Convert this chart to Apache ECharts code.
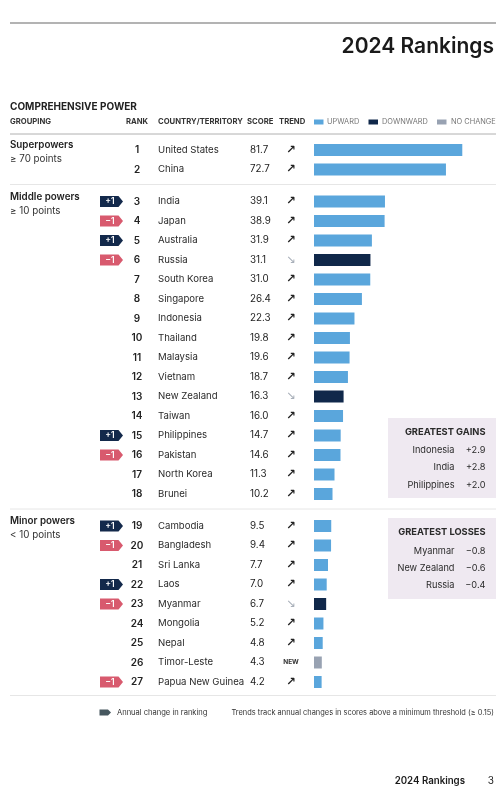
<!DOCTYPE html>
<html><head><meta charset="utf-8">
<script src="https://cdn.jsdelivr.net/npm/echarts@6/dist/echarts.min.js"></script>
<style>html,body{margin:0;padding:0;background:#fff}#c{width:500px;height:796px}</style>
</head><body><div id="c"></div>
<script>
// ---- DATA ----
const ranks = [1,2,3,4,5,6,7,8,9,10,11,12,13,14,15,16,17,18,19,20,21,22,23,24,25,26,27];
const countries = ["United States","China","India","Japan","Australia","Russia","South Korea","Singapore","Indonesia","Thailand","Malaysia","Vietnam","New Zealand","Taiwan","Philippines","Pakistan","North Korea","Brunei","Cambodia","Bangladesh","Sri Lanka","Laos","Myanmar","Mongolia","Nepal","Timor-Leste","Papua New Guinea"];
const scores = [81.7,72.7,39.1,38.9,31.9,31.1,31.0,26.4,22.3,19.8,19.6,18.7,16.3,16.0,14.7,14.6,11.3,10.2,9.5,9.4,7.7,7.0,6.7,5.2,4.8,4.3,4.2];
const trends = ["up","up","up","up","up","down","up","up","up","up","up","up","down","up","up","up","up","up","up","up","up","up","down","up","up","new","up"];
const rankChanges = [0,0,1,-1,1,-1,0,0,0,0,0,0,0,0,1,-1,0,0,1,-1,0,1,-1,0,0,0,-1];
const groupNames = ["Superpowers","Middle powers","Minor powers"];
const groupNotes = ["≥ 70 points","≥ 10 points","< 10 points"];
const groupSizes = [2,16,9];
const gainsNames = ["Indonesia","India","Philippines"];
const gainsValues = ["+2.9","+2.8","+2.0"];
const lossesNames = ["Myanmar","New Zealand","Russia"];
const lossesValues = ["−0.8","−0.6","−0.4"];

// ---- STYLE ----
const FONT = "Inter, 'Noto Sans', sans-serif";
const C_UP = '#5aa6dc', C_DOWN = '#10284a', C_NEW = '#98a2b2';
const C_PLUS = '#13294b', C_MINUS = '#d85a6e';
const TXT = '#222';
const ROW = 19.5, FIRST = 150, GAP = 12.5, LEFT = 314, XMAX = 100, XW = 181.5;
const trendColor = {up: C_UP, down: C_DOWN, new: C_NEW};

const chart = echarts.init(document.getElementById('c'), null, {renderer: 'canvas'});

const grids = [], xAxes = [], yAxes = [], series = [], graphic = [];
let start = 0;
groupSizes.forEach((n, g) => {
  const s = start;
  const top = FIRST + s * ROW + g * GAP - ROW / 2;
  const idx = Array.from({length: n}, (_, k) => s + k);
  grids.push({left: LEFT, width: XW, top: top, height: n * ROW});
  xAxes.push({gridIndex: g, type: 'value', min: 0, max: XMAX, show: false});
  const cats = idx.map(i => countries[i]);
  const base = {gridIndex: g, type: 'category', inverse: true, data: cats,
    axisLine: {show: false}, axisTick: {show: false}, splitLine: {show: false}, position: 'left', offset: 0};
  // rank
  yAxes.push(Object.assign({}, base, {axisLabel: {margin: LEFT - 137, align: 'center', fontFamily: FONT, fontSize: 10, fontWeight: 600, color: TXT,
    formatter: (v, i) => String(ranks[s + i])}}));
  // country
  yAxes.push(Object.assign({}, base, {axisLabel: {margin: LEFT - 158, align: 'left', fontFamily: FONT, fontSize: 9.6, color: '#2a2a2a',
    formatter: (v) => v}}));
  // score
  yAxes.push(Object.assign({}, base, {axisLabel: {margin: LEFT - 250, align: 'left', fontFamily: FONT, fontSize: 9.8, color: TXT,
    formatter: (v, i) => scores[s + i].toFixed(1)}}));
  // trend
  yAxes.push(Object.assign({}, base, {axisLabel: {margin: LEFT - 291, align: 'center',
    formatter: (v, i) => { const t = trends[s + i]; return t === 'up' ? '{u|↗}' : t === 'down' ? '{d|↘}' : '{n|NEW}'; },
    rich: {
      u: {fontFamily: "'DejaVu Sans'", fontSize: 11.5, fontWeight: 'bold', color: '#222'},
      d: {fontFamily: "'DejaVu Sans'", fontSize: 11.5, color: '#a9b0ba'},
      n: {fontFamily: FONT, fontSize: 6.5, fontWeight: 700, color: '#333'}
    }}}));
  const yi = g * 4;
  series.push({type: 'bar', xAxisIndex: g, yAxisIndex: yi, barWidth: 12, silent: true,
    data: idx.map(i => ({value: scores[i], itemStyle: {color: trendColor[trends[i]]}}))});
  series.push({type: 'custom', xAxisIndex: g, yAxisIndex: yi, clip: false, silent: true,
    data: idx.filter(i => rankChanges[i] !== 0).map(i => [0, countries[i], rankChanges[i]]),
    renderItem: (params, api) => {
      const p = api.coord([0, api.value(1)]);
      const ch = api.value(2);
      const x0 = p[0] - 214, y = p[1];
      return {type: 'group', children: [
        {type: 'polygon', shape: {points: [[x0, y - 5.5], [x0 + 18.5, y - 5.5], [x0 + 23, y], [x0 + 18.5, y + 5.5], [x0, y + 5.5]]},
          style: {fill: ch > 0 ? C_PLUS : C_MINUS}},
        {type: 'text', x: x0 + 10, y: y, style: {text: ch > 0 ? '+1' : '−1', fill: '#fff', font: '600 8.5px ' + FONT, textAlign: 'center', textVerticalAlign: 'middle'}}
      ]};
    }});
  // group labels
  const gy = FIRST + s * ROW + g * GAP;
  graphic.push({type: 'text', left: 10, top: gy - 3.5 - 6, style: {text: groupNames[g], font: '600 9.8px ' + FONT, fill: TXT}});
  graphic.push({type: 'text', left: 10, top: gy + 10.5 - 6, style: {text: groupNotes[g], font: '400 9.8px ' + FONT, fill: '#333'}});
  start += n;
});

// lines
const hline = (y, c, w) => ({type: 'line', shape: {x1: 10, y1: y, x2: 496, y2: y}, style: {stroke: c, lineWidth: w}});
graphic.push(hline(23, '#9a9a9a', 1.5), hline(134, '#b0b0b0', 1), hline(184.5, '#e6e6e6', 1), hline(509, '#e6e6e6', 1), hline(695.5, '#e6e6e6', 1));

// title & header
graphic.push({type: 'text', right: 6, top: 36, style: {text: '2024 Rankings', font: '600 21px ' + FONT, fill: '#1a1a1a'}});
graphic.push({type: 'text', left: 10, top: 102, style: {text: 'COMPREHENSIVE POWER', font: '700 10px ' + FONT, fill: TXT}});
const hdr = (x, text, align) => ({type: 'text', x: x, y: 122, style: {text: text, font: '700 7.7px ' + FONT, fill: '#333', textAlign: align || 'left', textVerticalAlign: 'middle'}});
graphic.push(hdr(10, 'GROUPING'), hdr(137, 'RANK', 'center'), hdr(158, 'COUNTRY/TERRITORY'), hdr(247, 'SCORE'), hdr(279, 'TREND'));
const leg = (x, c, tx, text) => [
  {type: 'rect', shape: {x: x, y: 119.5, width: 9.5, height: 5}, style: {fill: c}},
  {type: 'text', x: tx, y: 122, style: {text: text, font: '400 7.4px ' + FONT, fill: '#777', textVerticalAlign: 'middle'}}];
graphic.push(...leg(314, C_UP, 327, 'UPWARD'), ...leg(368.5, C_DOWN, 382, 'DOWNWARD'), ...leg(437, C_NEW, 451, 'NO CHANGE'));

// info boxes
const box = (y0, h, title, ty, names, vals, ry) => {
  const out = [{type: 'rect', shape: {x: 388, y: y0, width: 108, height: h}, style: {fill: '#efe9f1'}},
    {type: 'text', x: 485.5, y: ty, style: {text: title, font: '700 9.3px ' + FONT, fill: '#2a2a2a', textAlign: 'right', textVerticalAlign: 'middle'}}];
  names.forEach((n, k) => {
    out.push({type: 'text', x: 454.5, y: ry[k], style: {text: n, font: '400 9.2px ' + FONT, fill: '#2a2a2a', textAlign: 'right', textVerticalAlign: 'middle'}});
    out.push({type: 'text', x: 485.5, y: ry[k], style: {text: vals[k], font: '400 9.2px ' + FONT, fill: '#2a2a2a', textAlign: 'right', textVerticalAlign: 'middle'}});
  });
  return out;
};
graphic.push(...box(418, 80, 'GREATEST GAINS', 432.5, gainsNames, gainsValues, [450, 467.5, 485]));
graphic.push(...box(518, 81, 'GREATEST LOSSES', 532.5, lossesNames, lossesValues, [551, 568, 585]));

// footer legend
graphic.push({type: 'polygon', shape: {points: [[99.5, 709.5], [108, 709.5], [111, 712.5], [108, 715.5], [99.5, 715.5]]}, style: {fill: '#46575f'}});
graphic.push({type: 'text', x: 117, y: 712.5, style: {text: 'Annual change in ranking', font: '400 7.55px ' + FONT, fill: '#333', textVerticalAlign: 'middle'}});
graphic.push({type: 'text', x: 494, y: 712.5, style: {text: 'Trends track annual changes in scores above a minimum threshold (≥ 0.15)', font: '400 7.45px ' + FONT, fill: '#333', textAlign: 'right', textVerticalAlign: 'middle'}});
graphic.push({type: 'text', x: 465, y: 781, style: {text: '2024 Rankings', font: '600 9.7px ' + FONT, fill: '#1a1a1a', textAlign: 'right', textVerticalAlign: 'middle'}});
graphic.push({type: 'text', x: 494, y: 781, style: {text: '3', font: '400 10px ' + FONT, fill: '#1a1a1a', textAlign: 'right', textVerticalAlign: 'middle'}});

chart.setOption({
  animation: false,
  backgroundColor: '#fff',
  grid: grids, xAxis: xAxes, yAxis: yAxes, series: series, graphic: graphic
});
</script></body></html>
